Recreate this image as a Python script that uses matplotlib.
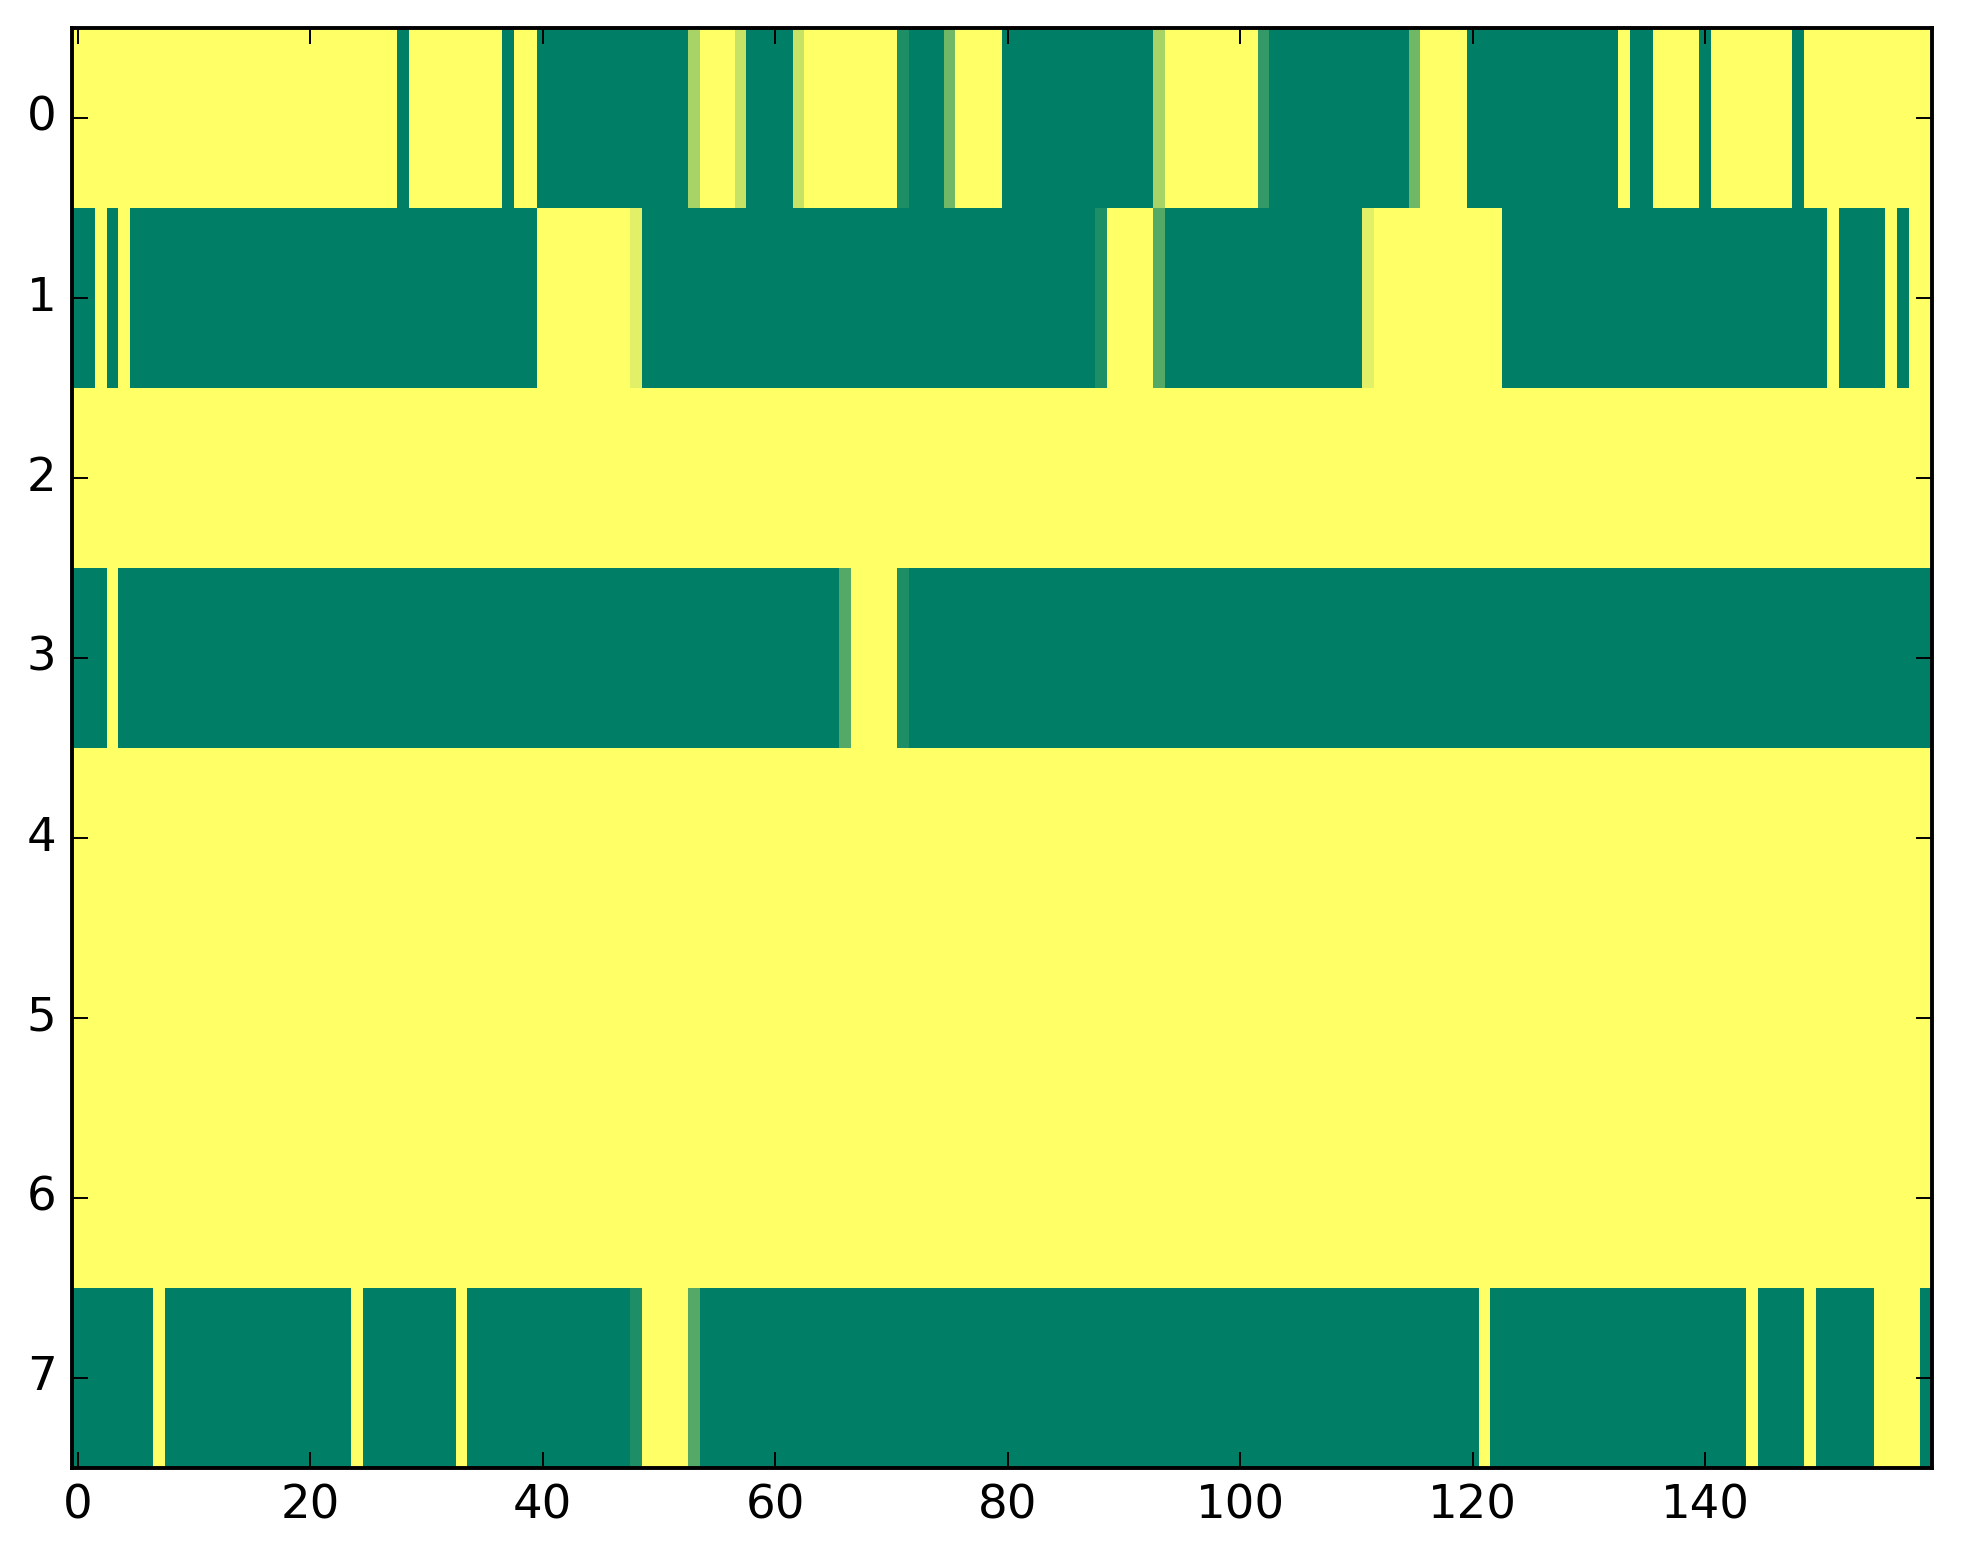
import numpy as np
import matplotlib
matplotlib.use("Agg")
import matplotlib.pyplot as plt

# each row stored as runs of (value, number of columns)
row0_runs = [(1, 28), (0, 1), (1, 8), (0, 1), (1, 2), (0, 13), (0.66, 1), (1, 3),
             (0.78, 1), (0, 4), (0.78, 1), (1, 8), (0.12, 1), (0, 3), (0.44, 1),
             (1, 4), (0, 13), (0.66, 1), (1, 8), (0.2, 1), (0, 12), (0.44, 1),
             (1, 4), (0, 13), (1, 1), (0, 2), (1, 4), (0, 1), (1, 7), (0, 1), (1, 11)]
row1_runs = [(0, 2), (1, 1), (0, 1), (1, 1), (0, 35), (1, 8), (0.88, 1), (0, 39),
             (0.12, 1), (1, 4), (0.33, 1), (0, 17), (0.88, 1), (1, 11), (0, 28),
             (1, 1), (0, 4), (1, 1), (0, 1), (1, 2)]
row2_runs = [(1, 160)]
row3_runs = [(0, 3), (1, 1), (0, 62), (0.33, 1), (1, 4), (0.12, 1), (0, 88)]
row4_runs = [(1, 160)]
row5_runs = [(1, 160)]
row6_runs = [(1, 160)]
row7_runs = [(0, 7), (1, 1), (0, 16), (1, 1), (0, 8), (1, 1), (0, 14), (0.12, 1),
             (1, 4), (0.33, 1), (0, 67), (1, 1), (0, 22), (1, 1), (0, 4), (1, 1),
             (0, 5), (1, 4), (0, 1)]

all_rows = [row0_runs, row1_runs, row2_runs, row3_runs,
            row4_runs, row5_runs, row6_runs, row7_runs]


def expand(runs):
    vals = [v for v, n in runs]
    counts = [n for v, n in runs]
    return np.repeat(vals, counts)


grid = np.vstack([expand(r) for r in all_rows])

plt.style.use("classic")
fig = plt.figure(figsize=(1963 / 280, 1564 / 280), dpi=280)
ax = fig.add_axes([72 / 1963, 1 - 1468 / 1564, (1932 - 72) / 1963, (1468 - 28) / 1564])
ax.imshow(grid, cmap="summer", aspect="auto", interpolation="nearest", vmin=0, vmax=1)
ax.set_xticks(np.arange(0, 160, 20))
ax.set_yticks(np.arange(0, 8))
ax.set_xlim(-0.5, grid.shape[1] - 0.5)
ax.set_ylim(grid.shape[0] - 0.5, -0.5)

fig.savefig("out.png", dpi=280)
